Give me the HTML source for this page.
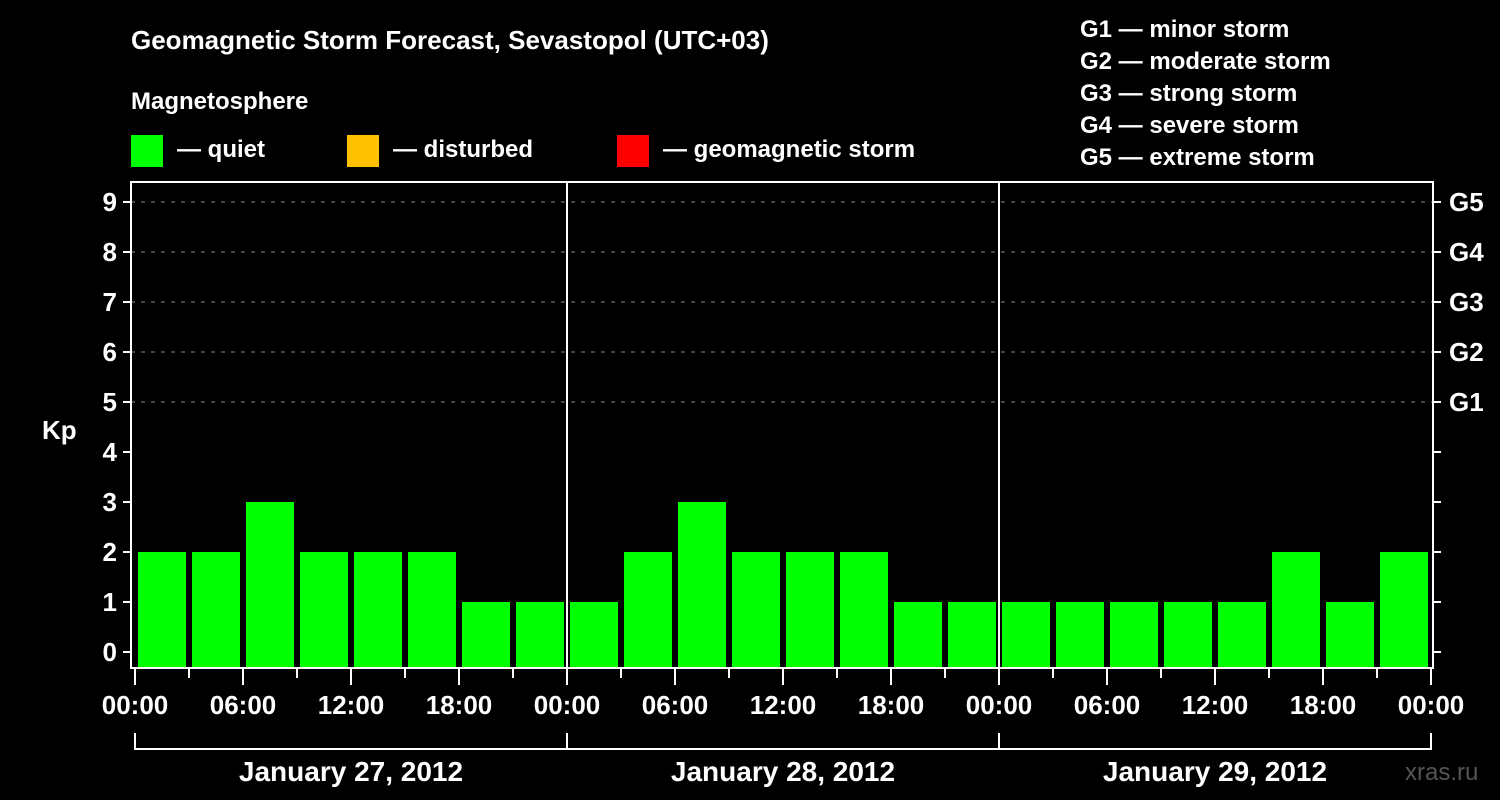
<!DOCTYPE html>
<html><head><meta charset="utf-8"><style>
html,body{margin:0;padding:0;background:#000;}
svg{display:block;font-family:"Liberation Sans",Arial,sans-serif;font-weight:bold;}
</style></head><body>
<svg width="1500" height="800" viewBox="0 0 1500 800">
<text x="131" y="49" fill="#fff" font-size="26">Geomagnetic Storm Forecast, Sevastopol (UTC+03)</text>
<text x="131" y="109" fill="#fff" font-size="24">Magnetosphere</text>
<g>
<rect x="131" y="135" width="32" height="32" fill="#00ff00"/>
<text x="177" y="157" fill="#fff" font-size="24">— quiet</text>
<rect x="347" y="135" width="32" height="32" fill="#ffc000"/>
<text x="393" y="157" fill="#fff" font-size="24">— disturbed</text>
<rect x="617" y="135" width="32" height="32" fill="#ff0000"/>
<text x="663" y="157" fill="#fff" font-size="24">— geomagnetic storm</text>
</g>
<g fill="#fff" font-size="24">
<text x="1080" y="37">G1 — minor storm</text>
<text x="1080" y="69">G2 — moderate storm</text>
<text x="1080" y="101">G3 — strong storm</text>
<text x="1080" y="133">G4 — severe storm</text>
<text x="1080" y="165">G5 — extreme storm</text>
</g>
<text x="42" y="439" fill="#fff" font-size="26">Kp</text>
<text x="1405" y="780" fill="#555" font-size="24" font-weight="normal">xras.ru</text>
<g id="chart"></g>
</svg>
<script>
const kpValues = [2,2,3,2,2,2,1,1, 1,2,3,2,2,2,1,1, 1,1,1,1,1,2,1,2];
const yTicks = [0,1,2,3,4,5,6,7,8,9];
const gLabels = ["G1","G2","G3","G4","G5"];
const gLevels = [5,6,7,8,9];
const dayLabels = ["January 27, 2012","January 28, 2012","January 29, 2012"];
const hourLabels = ["00:00","06:00","12:00","18:00"];

const NS="http://www.w3.org/2000/svg";
const g=document.getElementById('chart');
const X0=135, SLOT=54, DAY=432, TOP=182, BOT=668, LEFT=131, RIGHT=1433;
const y=v=>652-50*v;
const x=i=>X0+i*SLOT;
function mk(tag,attrs,parent){const e=document.createElementNS(NS,tag);for(const k in attrs)e.setAttribute(k,attrs[k]);(parent||g).appendChild(e);return e;}

// gridlines
yTicks.forEach(v=>{
  if(v>=5){const l=mk('line',{x1:LEFT,x2:RIGHT,y1:y(v),y2:y(v),stroke:'#888','stroke-width':1,'stroke-dasharray':'4,6'});
  
  }
  const t=mk('line',{x1:LEFT-8,x2:LEFT,y1:y(v),y2:y(v),stroke:'#fff','stroke-width':2});
  
  
  const lb=mk('text',{x:LEFT-14,y:y(v)+9,fill:'#fff','font-size':26,'text-anchor':'end'});
  lb.textContent=v;
  
  
  const rt=mk('line',{x1:RIGHT,x2:RIGHT+8,y1:y(v),y2:y(v),stroke:'#fff','stroke-width':2});
  
  
});
gLevels.forEach((lv,i)=>{
  const t=mk('text',{x:RIGHT+16,y:y(lv)+9,fill:'#fff','font-size':26});
  t.textContent=gLabels[i];
  
  
});
// bars
kpValues.forEach((v,i)=>{
  const b=mk('rect',{x:x(i)+3,y:y(v),width:SLOT-6,height:BOT-y(v),fill:'#00ff00'});
  
  
});
// frame
const f=mk('rect',{x:LEFT,y:TOP,width:RIGHT-LEFT,height:BOT-TOP,fill:'none',stroke:'#fff','stroke-width':2});


for(let d=1;d<dayLabels.length;d++){
  const s=mk('line',{x1:X0+d*DAY,x2:X0+d*DAY,y1:TOP,y2:BOT,stroke:'#fff','stroke-width':2});
  
  
}
// x ticks
const n=dayLabels.length*8;
for(let i=0;i<=n;i++){
  const major=i%2===0;
  const t=mk('line',{x1:x(i),x2:x(i),y1:BOT,y2:major?685:678,stroke:'#fff','stroke-width':2});
  
  
  if(major){
    const lb=mk('text',{x:x(i),y:714,fill:'#fff','font-size':26,'text-anchor':'middle'});
    lb.textContent=hourLabels[(i/2)%4];
    
    
  }
}
// day brackets
dayLabels.forEach((d,k)=>{
  const a=X0+k*DAY,b=a+DAY;
  const p=mk('path',{d:`M${a},733 V749 H${b} V733`,fill:'none',stroke:'#fff','stroke-width':2});
  
  
  const t=mk('text',{x:a+DAY/2,y:781,fill:'#fff','font-size':28,'text-anchor':'middle'});
  t.textContent=d;
  
  
});
</script>
</body></html>
